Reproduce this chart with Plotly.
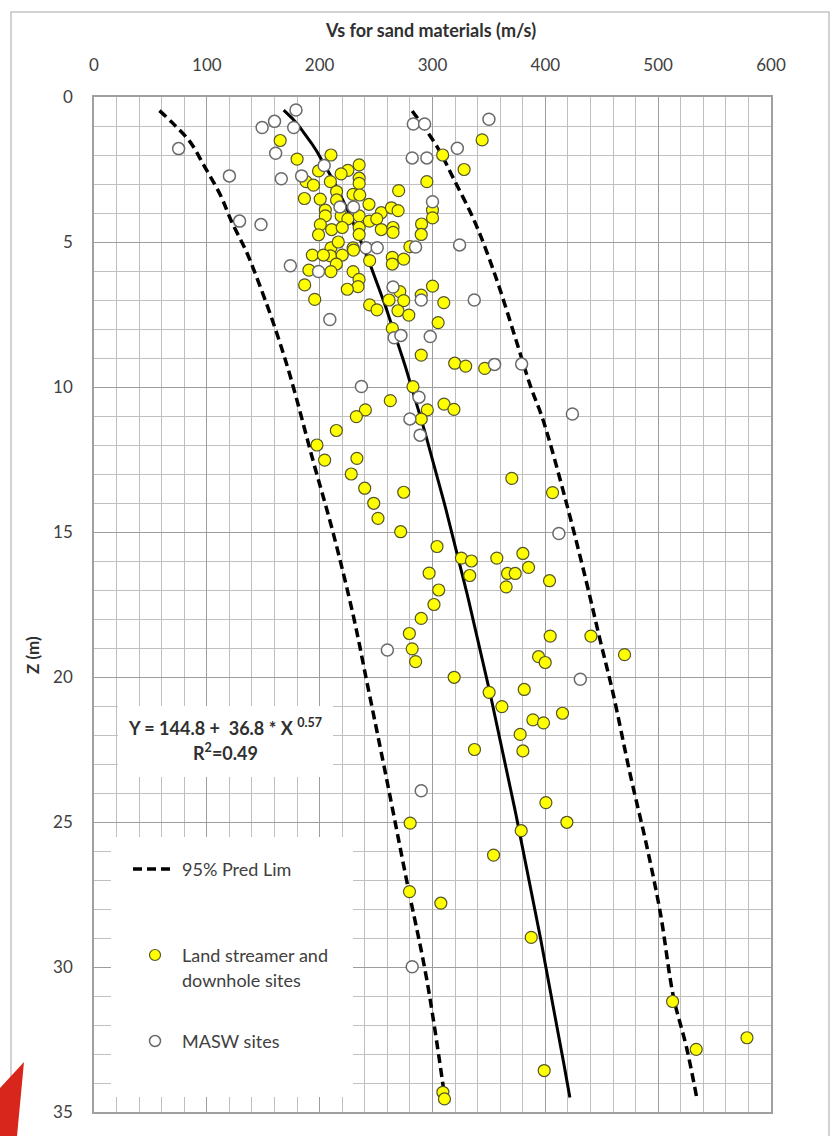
import numpy as np
import plotly.graph_objects as go

# ---- data -------------------------------------------------------------
# Land streamer and downhole sites: shear-wave velocity (m/s) and depth (m)
LS_VS = [165, 180, 210, 199, 235, 225, 219, 235, 235, 209.5, 188, 194.5, 215, 186.5, 200.5,
         215, 229.6, 235.5, 243.7, 254.6, 263.6, 269.5, 270, 295, 309, 328, 344, 300, 300,
         290.3, 290, 205, 205, 200.6, 199, 210.6, 219, 225, 235, 244, 250.6, 220, 235, 235,
         254.6, 265, 265, 210, 229.6, 216.5, 280, 193.5, 209.5, 220, 230, 203.3, 214.8, 210,
         190.5, 186.7, 195.6, 229.6, 234.9, 234, 224.5, 244.3, 264.4, 264.4, 274.5, 300, 290,
         310, 261.5, 271, 274.5, 269.4, 279, 244.3, 250.8, 305, 264.4, 290,
         319.7, 329.4, 346.3, 282.7, 262.6, 310.2, 319, 295.4, 290, 240.5, 232.5, 214.8,
         197.6, 204.4, 233, 228, 239.9, 274.5, 247.9, 251.7, 271.8, 304, 325.6, 334.5, 357,
         333, 297, 305.5, 301.3, 290, 279.5, 282, 285, 370.3, 406.4, 380.1, 385.1, 366.5,
         373.3, 365.3, 403.7, 404.3, 440.4, 470.2, 394, 399.9, 319.2, 350.2, 381.3, 361.5,
         415.2, 389, 398.4, 377.7, 337.2, 380.1, 280.2, 279.6, 307.4, 354.1, 378.6, 400.5,
         419.1, 387.5, 512.8, 533.7, 578.7, 399, 309.2, 310.6]
LS_Z = [1.5, 2.14, 2.0, 2.55, 2.34, 2.53, 2.65, 2.8, 2.98, 2.92, 2.92, 3.04, 3.26, 3.5, 3.52,
        3.55, 3.36, 3.38, 3.7, 3.99, 3.82, 3.92, 3.23, 2.92, 2.0, 2.5, 1.48, 3.9, 4.17,
        4.38, 4.74, 3.9, 4.1, 4.4, 4.75, 4.57, 4.1, 4.2, 4.1, 4.28, 4.2, 4.5, 4.5, 4.74,
        4.57, 4.5, 4.67, 5.2, 5.2, 5.0, 5.16, 5.45, 5.48, 5.45, 5.28, 5.45, 5.76, 6.02,
        5.97, 6.48, 6.98, 6.02, 6.29, 6.54, 6.63, 5.64, 5.53, 5.76, 5.59, 6.52, 6.83,
        7.09, 7.0, 6.71, 7.02, 7.37, 7.52, 7.17, 7.34, 7.78, 7.98, 8.9,
        9.18, 9.28, 9.36, 9.99, 10.47, 10.59, 10.77, 10.79, 11.11, 10.79, 11.02, 11.5,
        12.0, 12.52, 12.46, 13.0, 13.49, 13.63, 14.01, 14.53, 14.99, 15.5, 15.9, 16.0, 15.9,
        16.5, 16.42, 17.0, 17.5, 17.98, 18.5, 19.03, 19.47, 13.15, 13.64, 15.74, 16.22, 16.43,
        16.43, 16.89, 16.68, 18.59, 18.59, 19.23, 19.3, 19.5, 20.01, 20.53, 20.43, 21.02,
        21.25, 21.48, 21.58, 21.98, 22.5, 22.55, 25.04, 27.4, 27.8, 26.14, 25.3, 24.33,
        25.01, 28.98, 31.19, 32.84, 32.44, 33.57, 34.32, 34.55]

# MASW sites
MASW_VS = [179, 160, 149, 177, 75, 161, 120, 166, 184, 204, 129, 148, 218, 230, 283, 293,
           282, 295, 322, 300, 324, 350, 174, 199, 241, 251, 285, 209, 265, 290, 337, 266,
           272, 298, 237, 355, 379, 288, 280, 289, 424, 412, 260, 431, 290, 282]
MASW_Z = [0.45, 0.84, 1.05, 1.05, 1.78, 1.94, 2.72, 2.82, 2.72, 2.36, 4.28, 4.4, 3.79, 3.79,
          0.93, 0.93, 2.1, 2.1, 1.77, 3.61, 5.1, 0.77, 5.82, 6.02, 5.2, 5.2, 5.17, 7.67, 6.55,
          7.0, 7.0, 8.3, 8.22, 8.26, 9.98, 9.22, 9.21, 10.35, 11.1, 11.66, 10.93, 15.05,
          19.07, 20.08, 23.92, 29.99]

# Regression Vs = A + B * Z^P and its depth span
FIT_A, FIT_B, FIT_P = 144.8, 36.8, 0.57
FIT_Z_TOP, FIT_Z_BOTTOM = 0.45, 34.5

# 95 % prediction limits
PRED_LO_Z = [0.47, 0.91, 1.54, 2.4, 3.38, 4.3, 5.33, 6.2, 7.8, 9.64, 12.52, 15.04, 17.92,
             20.2, 23.55, 27.0, 30.45, 34.4]
PRED_LO_VS = [58, 70, 85, 98, 112, 122, 135, 144, 159, 174, 194, 212, 230, 242, 259.5, 277,
              295, 310.5]
PRED_HI_Z = [0.48, 1.71, 2.8, 4.18, 5.33, 6.66, 8.38, 9.99, 11.14, 13.9, 16.66, 18.72, 20.56,
             23.32, 25.85, 28.15, 31.02, 32.75, 34.47]
PRED_HI_VS = [282, 304, 318.5, 336, 348, 360, 374, 387, 398, 418, 436, 448.5, 460, 475,
              490, 502, 513.5, 525, 534]

X_TICKS = [0, 100, 200, 300, 400, 500, 600]
Y_TICKS = [0, 5, 10, 15, 20, 25, 30, 35]

# ---- layout geometry (pixels) ----------------------------------------
W_FIG, H_FIG = 834, 1136
L, R, T, B = 94, 771, 97, 1112
PW, PH = R - L, B - T


def fx(p):
    return (p - L) / PW


def fy(p):
    return (B - p) / PH


FONT = "Lato, 'Open Sans', Arial, sans-serif"
TXT = "#404040"
DARK = "#303030"
GRID_MINOR = "#bfbfbf"
GRID_MAJOR = "#9d9d9d"

fit_z = np.linspace(FIT_Z_TOP, FIT_Z_BOTTOM, 120)
fit_vs = FIT_A + FIT_B * fit_z ** FIT_P

fig = go.Figure()

dash_style = dict(color="black", width=3.5, dash="9px,5px")
fig.add_trace(go.Scatter(x=PRED_LO_VS, y=PRED_LO_Z, mode="lines", line=dash_style,
                         line_shape="spline", showlegend=False, hoverinfo="skip"))
fig.add_trace(go.Scatter(x=PRED_HI_VS, y=PRED_HI_Z, mode="lines", line=dash_style,
                         line_shape="spline", showlegend=False, hoverinfo="skip"))
fig.add_trace(go.Scatter(x=fit_vs, y=fit_z, mode="lines",
                         line=dict(color="black", width=3), showlegend=False))
fig.add_trace(go.Scatter(x=LS_VS, y=LS_Z, mode="markers", name="Land streamer and downhole sites",
                         marker=dict(size=12, color="#ffff00",
                                     line=dict(color="#55552a", width=1.2)),
                         showlegend=False))
fig.add_trace(go.Scatter(x=MASW_VS, y=MASW_Z, mode="markers", name="MASW sites",
                         marker=dict(size=12, color="white",
                                     line=dict(color="#6a6a6a", width=1.5)),
                         showlegend=False))

shapes = []
# outer frame
shapes.append(dict(type="rect", xref="paper", yref="paper", x0=fx(11), x1=fx(829),
                   y0=fy(1140), y1=fy(12), line=dict(color="#c4c4c4", width=1.5), layer="below"))
# red corner mark
shapes.append(dict(type="path", xref="paper", yref="paper",
                   path=f"M {fx(0)},{fy(1088)} L {fx(24)},{fy(1062)} L {fx(17)},{fy(1136)} "
                        f"L {fx(0)},{fy(1136)} Z",
                   fillcolor="#d8261c", line=dict(width=0), layer="above"))
# equation box
shapes.append(dict(type="rect", xref="paper", yref="paper", x0=fx(118), x1=fx(333),
                   y0=fy(777), y1=fy(706), fillcolor="white", line=dict(width=0), layer="above"))
# legend box
shapes.append(dict(type="rect", xref="paper", yref="paper", x0=fx(111), x1=fx(353),
                   y0=fy(1097), y1=fy(837), fillcolor="white", line=dict(width=0), layer="above"))
# legend symbols
shapes.append(dict(type="line", xref="paper", yref="paper", x0=fx(133), x1=fx(173),
                   y0=fy(869), y1=fy(869), line=dict(color="black", width=3.5, dash="9px,5px"),
                   layer="above"))
r = 5.5
shapes.append(dict(type="circle", xref="paper", yref="paper", x0=fx(155 - r), x1=fx(155 + r),
                   y0=fy(955 + r), y1=fy(955 - r), fillcolor="#ffff00",
                   line=dict(color="#55552a", width=1.2), layer="above"))
shapes.append(dict(type="circle", xref="paper", yref="paper", x0=fx(155 - r), x1=fx(155 + r),
                   y0=fy(1041 + r), y1=fy(1041 - r), fillcolor="white",
                   line=dict(color="#6a6a6a", width=1.5), layer="above"))


def label(text, px, py, size, color=TXT, xanchor="center", angle=0):
    return dict(text=text, x=fx(px), y=fy(py), xref="paper", yref="paper",
                xanchor=xanchor, yanchor="middle", showarrow=False, textangle=angle,
                font=dict(size=size, color=color, family=FONT))


annotations = [
    label("<b>Vs for sand materials (m/s)</b>", 430, 30, 18, DARK),
    label("<b>Z (m)</b>", 32, 655, 17, DARK, angle=-90),
    label("<b>Y = 144.8 +  36.8 * X <sup>0.57</sup></b>", 225, 727, 18, DARK),
    label("<b>R<sup>2</sup>=0.49</b>", 225, 752, 18, DARK),
    label("95% Pred Lim", 180, 869, 18, xanchor="left"),
    label("Land streamer and", 180, 955, 18, xanchor="left"),
    label("downhole sites", 180, 980, 18, xanchor="left"),
    label("MASW sites", 180, 1041, 18, xanchor="left"),
]

fig.update_layout(
    width=W_FIG, height=H_FIG,
    margin=dict(l=L, r=W_FIG - R, t=T, b=H_FIG - B, pad=0),
    paper_bgcolor="white", plot_bgcolor="white",
    font=dict(family=FONT, color=TXT, size=17),
    shapes=shapes, annotations=annotations, showlegend=False,
)
fig.update_xaxes(
    range=[0, 600], side="top", tickvals=X_TICKS, ticktext=[str(v) for v in X_TICKS],
    ticks="", ticklabelstandoff=17, showgrid=True, gridcolor=GRID_MAJOR, gridwidth=1,
    minor=dict(dtick=20, showgrid=True, gridcolor=GRID_MINOR, gridwidth=1),
    showline=True, linecolor="#a0a0a0", linewidth=1.5, mirror=True, zeroline=False,
    tickfont=dict(size=17, color=TXT),
)
fig.update_yaxes(
    range=[35, 0], tickvals=Y_TICKS, ticktext=[str(v) for v in Y_TICKS],
    ticks="", ticklabelstandoff=16, showgrid=True, gridcolor=GRID_MAJOR, gridwidth=1,
    minor=dict(dtick=1, showgrid=True, gridcolor=GRID_MINOR, gridwidth=1),
    showline=True, linecolor="#a0a0a0", linewidth=1.5, mirror=True, zeroline=False,
    tickfont=dict(size=17, color=TXT),
)

fig.write_html("out.html")
